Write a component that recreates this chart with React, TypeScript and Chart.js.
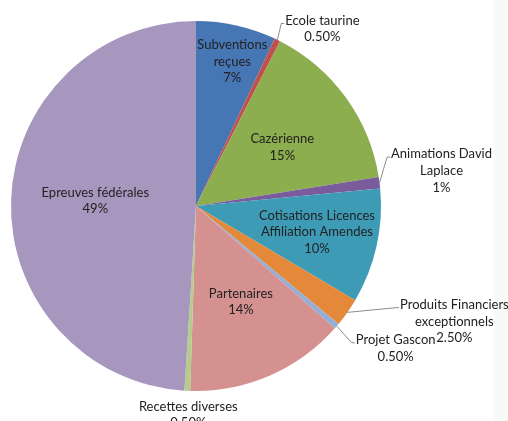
import React, { useEffect, useRef } from "react";
import { Chart, registerables } from "chart.js";

Chart.register(...registerables);

// ---- Data ----
const categoryLines: string[][] = [
  ["Subventions", "reçues"],
  ["Ecole taurine"],
  ["Cazérienne"],
  ["Animations David", "Laplace"],
  ["Cotisations Licences", "Affiliation Amendes"],
  ["Produits Financiers", "exceptionnels"],
  ["Projet Gascon"],
  ["Partenaires"],
  ["Recettes diverses"],
  ["Epreuves fédérales"],
];
const values: number[] = [7, 0.5, 15, 1, 10, 2.5, 0.5, 14, 0.5, 49];
const percentLabels: string[] = ["7%", "0.50%", "15%", "1%", "10%", "2.50%", "0.50%", "14%", "0.50%", "49%"];

// ---- Styles ----
const sliceColors: string[] = [
  "#4776B4",
  "#C0504D",
  "#8CAE4E",
  "#7A5C9D",
  "#3E9BB6",
  "#E4893A",
  "#95AED6",
  "#D49190",
  "#B5CD8A",
  "#A797BE",
];

type Layout =
  | { mode: "in"; r: number; dx: number; dy: number }
  | { mode: "out"; dx: number; dy: number; leader: boolean };

const labelLayout: Layout[] = [
  { mode: "in", r: 0.8, dx: 4, dy: 0 },
  { mode: "out", dx: 45, dy: -11, leader: true },
  { mode: "in", r: 0.57, dx: 1, dy: 3 },
  { mode: "out", dx: 62, dy: -12, leader: true },
  { mode: "in", r: 0.67, dx: 0, dy: -1 },
  { mode: "out", dx: 107, dy: 9, leader: true },
  { mode: "out", dx: 59, dy: 22, leader: true },
  { mode: "in", r: 0.57, dx: 3, dy: -1 },
  { mode: "out", dx: 1, dy: 24, leader: false },
  { mode: "in", r: 0.55, dx: 1, dy: -2 },
];

const FONT = "13px Lato";
const LINE_H = 16.7;
const TEXT_COLOR = "#222222";

const labelPlugin = {
  id: "sliceLabels",
  afterDatasetsDraw(chart: any) {
    const ctx: CanvasRenderingContext2D = chart.ctx;
    const meta = chart.getDatasetMeta(0);
    ctx.save();
    ctx.font = FONT;
    ctx.textAlign = "center";
    ctx.textBaseline = "middle";
    meta.data.forEach((arc: any, i: number) => {
      const p = arc.getProps(["x", "y", "startAngle", "endAngle", "outerRadius"], true);
      const mid = (p.startAngle + p.endAngle) / 2;
      const lines = [...categoryLines[i], percentLabels[i]];
      const lay = labelLayout[i];
      const ex = p.x + Math.cos(mid) * p.outerRadius;
      const ey = p.y + Math.sin(mid) * p.outerRadius;
      let cx: number, cy: number;
      if (lay.mode === "in") {
        cx = p.x + Math.cos(mid) * p.outerRadius * lay.r + lay.dx;
        cy = p.y + Math.sin(mid) * p.outerRadius * lay.r + lay.dy;
      } else {
        cx = ex + lay.dx;
        cy = ey + lay.dy;
      }
      const top = cy - ((lines.length - 1) * LINE_H) / 2;
      ctx.fillStyle = TEXT_COLOR;
      lines.forEach((t, k) => ctx.fillText(t, cx, top + k * LINE_H));
      if (lay.mode === "out" && lay.leader) {
        const w = ctx.measureText(lines[0]).width;
        const left = cx - w / 2;
        const ly = top + 3;
        ctx.strokeStyle = "#8c8c8c";
        ctx.lineWidth = 1;
        ctx.beginPath();
        ctx.moveTo(ex, ey);
        ctx.lineTo(left - 4, ly);
        ctx.lineTo(left - 1, ly);
        ctx.stroke();
      }
    });
    ctx.restore();
  },
};

export default function App() {
  const ref = useRef<HTMLCanvasElement | null>(null);
  useEffect(() => {
    if (!ref.current) return;
    const chart = new Chart(ref.current, {
      type: "pie",
      data: {
        labels: categoryLines.map((l) => l.join(" ")),
        datasets: [
          {
            data: values,
            backgroundColor: sliceColors,
            borderWidth: 0,
          },
        ],
      },
      options: {
        responsive: false,
        animation: false,
        layout: { padding: { left: 11, right: 127, top: 21, bottom: 30 } },
        plugins: {
          legend: { display: false },
          tooltip: { enabled: false },
        },
      },
      plugins: [labelPlugin],
    });
    return () => chart.destroy();
  }, []);
  return (
    <div style={{ position: "absolute", left: 0, top: 0, width: 508, height: 421, background: "#ffffff", overflow: "hidden" }}>
      <div style={{ position: "absolute", left: 494, top: 0, width: 14, height: 421, background: "#f9f9f9" }} />
      <canvas ref={ref} width={508} height={421} style={{ position: "absolute", left: 0, top: 0 }} />
    </div>
  );
}
